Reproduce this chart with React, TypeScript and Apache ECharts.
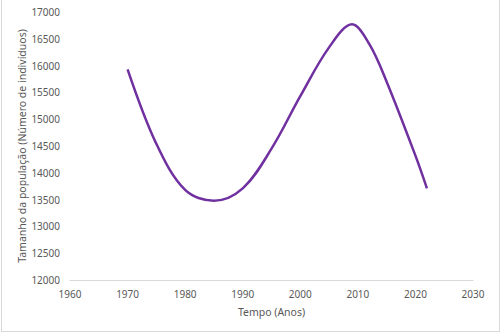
import React, { useEffect, useRef } from "react";
import * as echarts from "echarts";

const years = [1970, 1975, 1980, 1985, 1990, 1995, 2000, 2005, 2009, 2012, 2015, 2020, 2022];
const population = [15930, 14540, 13680, 13480, 13710, 14450, 15430, 16340, 16770, 16400, 15700, 14320, 13710];
const xTicks = [1960, 2030, 10];
const yTicks = [12000, 17000, 500];
const xTitle = "Tempo (Anos)";
const yTitle = "Tamanho da população (Número de indivíduos)";

export default function App() {
  const ref = useRef<HTMLDivElement>(null);
  useEffect(() => {
    if (!ref.current) return;
    const chart = echarts.init(ref.current, null, { renderer: "svg" });
    const font = "Noto Sans";
    const labelColor = "#595959";
    chart.setOption({
      animation: false,
      backgroundColor: "#ffffff",
      grid: { left: 70, right: 27, top: 12, bottom: 53 },
      xAxis: {
        type: "value",
        min: xTicks[0],
        max: xTicks[1],
        interval: xTicks[2],
        name: xTitle,
        nameLocation: "middle",
        nameGap: 26,
        nameMoveOverlap: false,
        nameTextStyle: { color: labelColor, fontFamily: font, fontSize: 10.5 },
        axisLine: { show: true, lineStyle: { color: "#d9d9d9", width: 1 } },
        axisTick: { show: false },
        splitLine: { show: false },
        axisLabel: { color: labelColor, fontFamily: font, fontSize: 10, margin: 9, formatter: (v: number) => String(v) },
      },
      yAxis: {
        type: "value",
        min: yTicks[0],
        max: yTicks[1],
        interval: yTicks[2],
        name: yTitle,
        nameLocation: "middle",
        nameGap: 43,
        nameMoveOverlap: false,
        nameRotate: 90,
        nameTextStyle: { color: labelColor, fontFamily: font, fontSize: 10.5 },
        axisLine: { show: false },
        axisTick: { show: false },
        splitLine: { show: false },
        axisLabel: { color: labelColor, fontFamily: font, fontSize: 10, margin: 10, formatter: (v: number) => String(v) },
      },
      series: [
        {
          type: "line",
          data: years.map((y, i) => [y, population[i]]),
          smooth: 0.35,
          showSymbol: false,
          lineStyle: { color: "#7030A0", width: 2.5 },
        },
      ],
    });
    return () => chart.dispose();
  }, []);
  return (
    <div
      style={{
        position: "fixed",
        left: 0,
        top: 0,
        width: 500,
        height: 333,
        background: "#fff",
      }}
    >
      <div ref={ref} style={{ position: "absolute", left: 0, top: 0, width: 500, height: 333 }} />
      <div
        style={{
          position: "absolute",
          left: 1,
          top: 0,
          width: 497,
          height: 331,
          borderLeft: "1px solid #d9d9d9",
          borderRight: "1px solid #d9d9d9",
          borderBottom: "1px solid #d9d9d9",
          pointerEvents: "none",
        }}
      />
    </div>
  );
}
